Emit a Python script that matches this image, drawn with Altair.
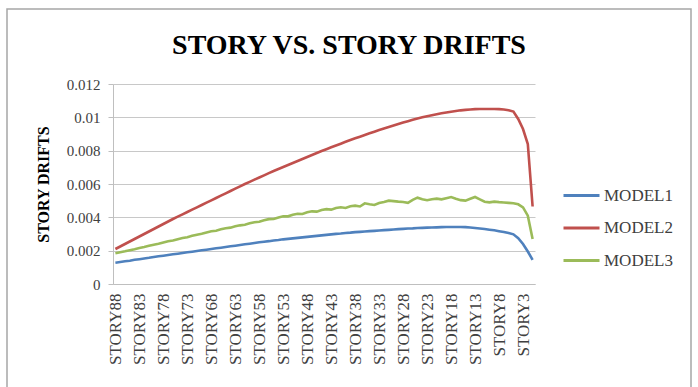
import altair as alt
import pandas as pd

stories = [f"STORY{n}" for n in range(88, 0, -1)]
tick_labels = [f"STORY{n}" for n in range(88, 0, -5)]
series_names = ["MODEL1", "MODEL2", "MODEL3"]
series_colors = ["#4F81BD", "#C0504D", "#9BBB59"]

model1 = [
    0.00128, 0.00132, 0.00136, 0.00140, 0.00145, 0.00149, 0.00153, 0.00157, 0.00162, 0.00166,
    0.00170, 0.00174, 0.00178, 0.00182, 0.00186, 0.00190, 0.00194, 0.00198, 0.00202, 0.00206,
    0.00210, 0.00214, 0.00218, 0.00222, 0.00226, 0.00230, 0.00234, 0.00238, 0.00242, 0.00246,
    0.00250, 0.00254, 0.00257, 0.00261, 0.00264, 0.00268, 0.00271, 0.00274, 0.00277, 0.00280,
    0.00283, 0.00286, 0.00289, 0.00292, 0.00295, 0.00298, 0.00301, 0.00303, 0.00306, 0.00308,
    0.00311, 0.00313, 0.00315, 0.00317, 0.00319, 0.00321, 0.00323, 0.00325, 0.00327, 0.00329,
    0.00331, 0.00333, 0.00334, 0.00336, 0.00337, 0.00338, 0.00339, 0.00340, 0.00341, 0.00342,
    0.00342, 0.00342, 0.00342, 0.00341, 0.00339, 0.00336, 0.00333, 0.00330, 0.00326, 0.00322,
    0.00317, 0.00312, 0.00306, 0.00298, 0.00275, 0.00240, 0.00195, 0.00145,
]

model2 = [
    0.00210, 0.00225, 0.00240, 0.00255, 0.00270, 0.00285, 0.00300, 0.00315, 0.00330, 0.00345,
    0.00360, 0.00375, 0.00390, 0.00404, 0.00418, 0.00432, 0.00446, 0.00460, 0.00474, 0.00488,
    0.00502, 0.00516, 0.00530, 0.00544, 0.00558, 0.00572, 0.00586, 0.00600, 0.00613, 0.00626,
    0.00639, 0.00652, 0.00665, 0.00678, 0.00690, 0.00702, 0.00714, 0.00726, 0.00738, 0.00750,
    0.00762, 0.00774, 0.00786, 0.00798, 0.00809, 0.00820, 0.00831, 0.00842, 0.00853, 0.00864,
    0.00874, 0.00884, 0.00894, 0.00904, 0.00914, 0.00924, 0.00933, 0.00942, 0.00951, 0.00960,
    0.00969, 0.00977, 0.00985, 0.00993, 0.01000, 0.01007, 0.01013, 0.01019, 0.01024, 0.01029,
    0.01034, 0.01038, 0.01042, 0.01045, 0.01047, 0.01049, 0.01050, 0.01050, 0.01050, 0.01050,
    0.01049, 0.01047, 0.01043, 0.01035, 0.00990, 0.00930, 0.00840, 0.00465,
]

model3 = [
    0.00184, 0.00190, 0.00196, 0.00203, 0.00209, 0.00216, 0.00222, 0.00229, 0.00236, 0.00241,
    0.00249, 0.00256, 0.00261, 0.00269, 0.00276, 0.00281, 0.00289, 0.00296, 0.00301, 0.00309,
    0.00316, 0.00320, 0.00328, 0.00335, 0.00338, 0.00346, 0.00352, 0.00355, 0.00364, 0.00371,
    0.00373, 0.00382, 0.00389, 0.00390, 0.00399, 0.00406, 0.00406, 0.00415, 0.00421, 0.00420,
    0.00430, 0.00436, 0.00434, 0.00444, 0.00449, 0.00446, 0.00456, 0.00460, 0.00456, 0.00466,
    0.00470, 0.00465, 0.00484, 0.00478, 0.00474, 0.00486, 0.00492, 0.00500, 0.00497, 0.00494,
    0.00492, 0.00487, 0.00505, 0.00518, 0.00508, 0.00503, 0.00509, 0.00512, 0.00508, 0.00515,
    0.00522, 0.00512, 0.00503, 0.00500, 0.00511, 0.00522, 0.00508, 0.00494, 0.00490, 0.00494,
    0.00491, 0.00489, 0.00487, 0.00485, 0.00478, 0.00460, 0.00410, 0.00270,
]

y_ticks = [0, 0.002, 0.004, 0.006, 0.008, 0.010, 0.012]

rows = []
for name, vals in zip(series_names, [model1, model2, model3]):
    for s, v in zip(stories, vals):
        rows.append({"story": s, "drift": v, "model": name})
df = pd.DataFrame(rows)

SERIF = "Liberation Serif"

lines = alt.Chart(df).mark_line(strokeWidth=2.6).encode(
    x=alt.X(
        "story:N",
        sort=stories,
        scale=alt.Scale(type="point", padding=0.5),
        axis=alt.Axis(
            title=None,
            values=tick_labels,
            labelAngle=-90,
            labelFont=SERIF,
            labelFontSize=17,
            labelColor="#404040",
            labelPadding=9,
            ticks=False,
            grid=False,
            domainColor="#BFBFBF",
            domainWidth=1,
            labelOverlap=False,
        ),
    ),
    y=alt.Y(
        "drift:Q",
        scale=alt.Scale(domain=[0, 0.012], nice=False),
        axis=alt.Axis(
            title="STORY DRIFTS",
            titleFont=SERIF,
            titleFontSize=16,
            titleFontWeight="bold",
            titleColor="#000000",
            titleX=-70,
            titleY=100,
            titleBaseline="middle",
            values=y_ticks,
            format="~g",
            labelFont=SERIF,
            labelFontSize=15,
            labelColor="#404040",
            labelPadding=8,
            tickSize=5,
            tickColor="#BFBFBF",
            domainColor="#BFBFBF",
            gridColor="#C8C8C8",
            gridWidth=1,
        ),
    ),
    color=alt.Color(
        "model:N",
        scale=alt.Scale(domain=series_names, range=series_colors),
        legend=alt.Legend(
            title=None,
            orient="none",
            legendX=449,
            legendY=92,
            symbolType="stroke",
            symbolSize=1296,
            symbolStrokeWidth=3,
            labelFont=SERIF,
            labelFontSize=17,
            labelColor="#404040",
            labelOffset=3,
            rowPadding=4.5,
        ),
    ),
)

border = alt.Chart(pd.DataFrame({"d": [0]})).mark_rect(
    fillOpacity=0, stroke="#A6A6A6", strokeWidth=1.5
).encode(
    x=alt.value(-106), x2=alt.value(578), y=alt.value(-75), y2=alt.value(330)
)

chart = alt.layer(border, lines).properties(
    width=422,
    height=200,
    title=alt.TitleParams(
        "STORY VS. STORY DRIFTS",
        font=SERIF,
        fontSize=28,
        fontWeight="bold",
        color="#000000",
        anchor="middle",
        dx=25,
        offset=-52,
    ),
    autosize=alt.AutoSizeParams(type="none"),
    padding={"left": 113, "top": 84, "right": 163, "bottom": 103},
    background="white",
).configure_view(stroke=None)

chart.save("out.html", embed_options={"renderer": "svg", "actions": False})
